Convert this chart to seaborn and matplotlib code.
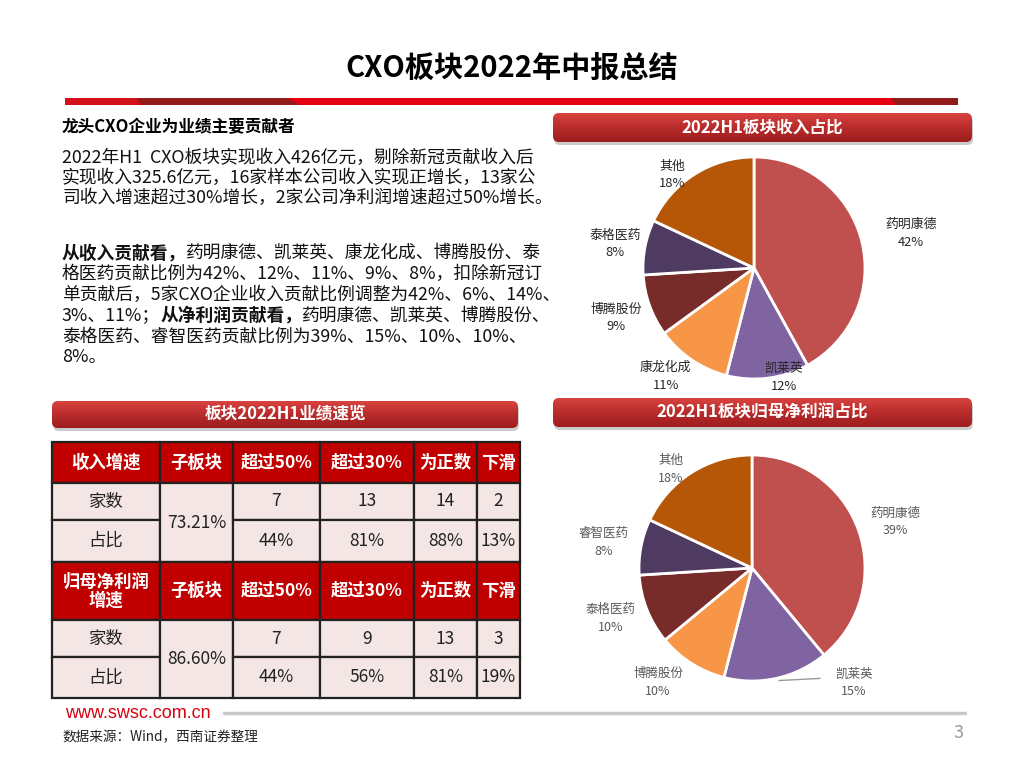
import numpy as np
import seaborn as sns
import matplotlib.pyplot as plt
from matplotlib.patches import FancyBboxPatch, Rectangle, Polygon

sns.set_theme(style="white")
plt.rcParams['font.family'] = ['Noto Sans CJK SC', 'DejaVu Sans']

# ---- data ----
rev_names = ["药明康德", "凯莱英", "康龙化成", "博腾股份", "泰格医药", "其他"]
rev_share = [42, 12, 11, 9, 8, 18]
np_names = ["药明康德", "凯莱英", "博腾股份", "泰格医药", "睿智医药", "其他"]
np_share = [39, 15, 10, 10, 8, 18]

tbl_cols = ["子板块", "超过50%", "超过30%", "为正数", "下滑"]
row_names = ["家数", "占比"]
rev_hdr = "收入增速"
rev_sub = "73.21%"
rev_counts = [7, 13, 14, 2]
rev_ratio = ["44%", "81%", "88%", "13%"]
np_hdr = "归母净利润\n增速"
np_sub = "86.60%"
np_counts = [7, 9, 13, 3]
np_ratio = ["44%", "56%", "81%", "19%"]

title = "CXO板块2022年中报总结"
heading = "龙头CXO企业为业绩主要贡献者"
para1 = ["2022年H1  CXO板块实现收入426亿元，剔除新冠贡献收入后",
         "实现收入325.6亿元，16家样本公司收入实现正增长，13家公",
         "司收入增速超过30%增长，2家公司净利润增速超过50%增长。"]
para2 = [[("从收入贡献看，", True), ("药明康德、凯莱英、康龙化成、博腾股份、泰", False)],
         [("格医药贡献比例为42%、12%、11%、9%、8%，扣除新冠订", False)],
         [("单贡献后，5家CXO企业收入贡献比例调整为42%、6%、14%、", False)],
         [("3%、11%；", False), ("从净利润贡献看，", True), ("药明康德、凯莱英、博腾股份、", False)],
         [("泰格医药、睿智医药贡献比例为39%、15%、10%、10%、", False)],
         [("8%。", False)]]

pie_colors = sns.color_palette(["#C0504D", "#8064A2", "#F79646", "#772C2A", "#4F3A61", "#B65708"])

fig = plt.figure(figsize=(10.24, 7.68), dpi=100)
bg = fig.add_axes([0, 0, 1, 1])
bg.set_xlim(0, 1024)
bg.set_ylim(768, 0)
bg.axis('off')

# ---- title & red bar ----
bg.text(512, 68, title, ha='center', va='center', fontsize=21, fontweight='bold', color='black')
bg.add_patch(Rectangle((65, 98), 893, 7, color='#E50012', lw=0))
bg.add_patch(Rectangle((65, 98), 72, 7, color='#D2111B', lw=0))
bg.add_patch(Polygon([(137, 98), (287, 98), (300, 105), (141, 105)], color='#8F1B1B', lw=0))
bg.add_patch(Polygon([(891, 98), (958, 98), (958, 105), (896, 105)], color='#8F1B1B', lw=0))


def banner(x0, y0, w, h, text):
    sh = FancyBboxPatch((x0 + 1, y0 + 3), w, h, boxstyle="round,pad=0,rounding_size=6",
                        fc='#b5b5b5', ec='none', alpha=0.7)
    bg.add_patch(sh)
    p = FancyBboxPatch((x0, y0), w, h, boxstyle="round,pad=0,rounding_size=6",
                       fc='none', ec='none')
    bg.add_patch(p)
    grad = np.linspace(0, 1, 64).reshape(-1, 1)
    cm = sns.blend_palette(["#D8433F", "#B82C2B", "#9E1D1E"], as_cmap=True)
    im = bg.imshow(grad, cmap=cm, extent=[x0, x0 + w, y0 + h, y0], aspect='auto',
                   origin='upper', zorder=2)
    im.set_clip_path(p)
    bg.text(x0 + w / 2, y0 + h / 2, text, ha='center', va='center', color='white',
            fontsize=12, fontweight='bold', zorder=3)


banner(553, 113, 419, 29, "2022H1板块收入占比")
banner(553, 398, 419, 29, "2022H1板块归母净利润占比")
banner(52, 401, 466, 27, "板块2022H1业绩速览")
bg.set_xlim(0, 1024)
bg.set_ylim(768, 0)

# ---- left text ----
bg.text(62, 127, heading, fontsize=12, fontweight='bold', va='center', color='black')
for i, line in enumerate(para1):
    bg.text(62, 158 + i * 20, line, fontsize=12.8, va='center', color='#111111')
for i, segs in enumerate(para2):
    prev = None
    for txt, bold in segs:
        fw = 'bold' if bold else 'normal'
        if prev is None:
            prev = bg.text(62, 253 + i * 20.8, txt, fontsize=12.8, va='center',
                           fontweight=fw, color='#111111')
        else:
            prev = bg.annotate(txt, xy=(1, 0.5), xycoords=prev, va='center', ha='left',
                               fontsize=12.8, fontweight=fw, color='#111111')

# ---- table ----
xe = [52, 160, 233, 320, 414, 477, 520]
ye = [442, 483, 520, 562, 620, 657, 698]
red = '#C00000'
light = '#F3E6E4'
edge = '#222222'


def cell(x0, x1, y0, y1, fc, text, color, bold, fs=12.5):
    bg.add_patch(Rectangle((x0, y0), x1 - x0, y1 - y0, fc=fc, ec=edge, lw=1.6))
    bg.text((x0 + x1) / 2, (y0 + y1) / 2, text, ha='center', va='center', color=color,
            fontsize=fs, fontweight='bold' if bold else 'normal', linespacing=1.05)


def block(r0, hdr, sub, counts, ratio):
    cell(xe[0], xe[1], ye[r0], ye[r0 + 1], red, hdr, 'white', True)
    for j, c in enumerate(tbl_cols):
        cell(xe[j + 1], xe[j + 2], ye[r0], ye[r0 + 1], red, c, 'white', True)
    for k, rn in enumerate(row_names):
        cell(xe[0], xe[1], ye[r0 + 1 + k], ye[r0 + 2 + k], light, rn, '#222222', False)
    cell(xe[1], xe[2], ye[r0 + 1], ye[r0 + 3], light, sub, '#222222', False)
    for j in range(len(counts)):
        cell(xe[j + 2], xe[j + 3], ye[r0 + 1], ye[r0 + 2], light, str(counts[j]), '#222222', False)
        cell(xe[j + 2], xe[j + 3], ye[r0 + 2], ye[r0 + 3], light, ratio[j], '#222222', False)


block(0, rev_hdr, rev_sub, rev_counts, rev_ratio)
block(3, np_hdr, np_sub, np_counts, np_ratio)


# ---- pies ----
def pie_axes(cx, cy, r):
    w = 2.5 * r
    return fig.add_axes([(cx - w / 2) / 1024, 1 - (cy + w / 2) / 768, w / 1024, w / 768])


def draw_pie(ax, names, vals, dists, shifts, color, fs):
    wedges, _ = ax.pie(vals, colors=pie_colors, startangle=90, counterclock=False,
                       wedgeprops=dict(edgecolor='white', linewidth=2))
    pos = []
    for w, n, v, d, s in zip(wedges, names, vals, dists, shifts):
        mid = (w.theta1 + w.theta2) / 2
        ang = np.deg2rad(mid + s)
        x, y = d * np.cos(ang), d * np.sin(ang)
        ax.text(x, y, f"{n}\n{v}%", ha='center', va='center', fontsize=fs,
                color=color, linespacing=1.45)
        pos.append((mid, x, y))
    return pos


ax1 = pie_axes(754, 268, 111)
draw_pie(ax1, rev_names, rev_share, [1.45, 1.02, 1.26, 1.32, 1.27, 1.12],
         [-2, 8, -5, 0, 1, 9], '#262626', 9.3)

ax2 = pie_axes(752, 568, 113)
pos2 = draw_pie(ax2, np_names, np_share, [1.33, 1.36, 1.31, 1.33, 1.33, 1.13],
                [-2, 29, -7, -2, 1, 7], '#595959', 9)
mid, lx, ly = pos2[1]
ax2.plot([np.cos(np.deg2rad(mid)) + 0.02, lx - 0.3], [np.sin(np.deg2rad(mid)) - 0.02, ly + 0.04],
         color='#999999', lw=1, clip_on=False)

# ---- footer ----
bg.text(65, 713, "www.swsc.com.cn", color='#D7000F', fontsize=13,
        family=['Liberation Sans', 'DejaVu Sans'], va='center')
bg.plot([224, 965], [713, 713], color='#C8C8C8', lw=2.5)
bg.text(62, 737, "数据来源：Wind，西南证券整理", fontsize=9.8, va='center', color='#222222')
bg.text(958, 733, "3", fontsize=13, va='center', ha='center', color='#999999')

fig.savefig('out.png', dpi=100)
